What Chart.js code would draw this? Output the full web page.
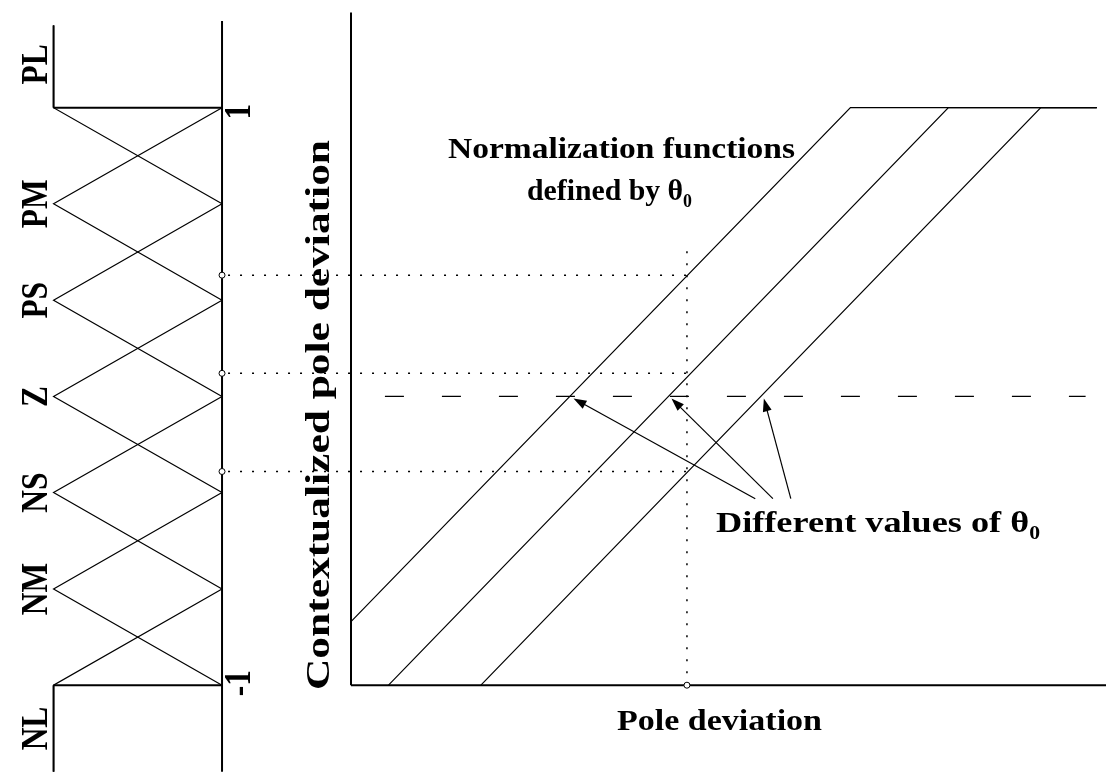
<!DOCTYPE html>
<html>
<head>
<meta charset="utf-8">
<script src="https://cdn.jsdelivr.net/npm/chart.js@4.4.1/dist/chart.umd.min.js"></script>
<style>
  html, body { margin: 0; padding: 0; background: #fff; }
  #wrap { position: relative; width: 1111px; height: 782px; }
</style>
</head>
<body>
<div id="wrap"><canvas id="fuzzy" width="1111" height="782"></canvas></div>
<script>
// linguistic terms of the contextualized pole deviation (universe -1 .. 1)
const TERMS = ['NL', 'NM', 'NS', 'Z', 'PS', 'PM', 'PL'];
const TERM_CENTERS = [-1, -0.667, -0.333, 0, 0.333, 0.667, 1];
const UNIVERSE_TICKS = ['-1', '1'];

// normalization functions, one per value of theta0 (break points)
const THETA0 = [-0.35, 0, 0.33];
const NORM_X = [[-1.134, 0.65, 1.53], [-1, 1, 1.53], [-0.67, 1.33, 1.53]];
const NORM_Y = [[-0.78, 1, 1], [-1, 1, 1], [-1, 1, 1]];

// one measured pole deviation and what each function turns it into
const POLE_DEVIATION = 0.066;
const CONTEXTUALIZED = [0.42, 0.08, -0.26];

const W = 1111, H = 782;
const INK = '#000';
const FONT_FAMILY = '"Liberation Serif", "Times New Roman", serif';

// pick min/max so that two values land on two given pixels of a full-size chart area
function fitScale(v0, p0, v1, p1, size, vertical) {
    const b = (p1 - p0) / (v1 - v0);
    const a = p0 - b * v0;
    const atStart = -a / b, atEnd = (size - a) / b;
    const grows = vertical ? b < 0 : b > 0;
    return { min: Math.min(atStart, atEnd), max: Math.max(atStart, atEnd), reverse: !grows };
}

const Y_RANGE = fitScale(1, 104, -1, 689, H, true);
const XM_RANGE = fitScale(1, 49, 0, 219, W, false);   // membership degree, grows to the left
const X_RANGE = fitScale(-1, 387, 1, 952, W, false);  // pole deviation

function seg(xs, ys) {
    return xs.map((x, i) => ({ x: x, y: ys[i] }));
}

function lineSet(data, axis, extra) {
    return Object.assign({
        data: data,
        xAxisID: axis,
        yAxisID: 'y',
        showLine: true,
        borderColor: INK,
        borderWidth: 1.2,
        pointRadius: 0,
        tension: 0
    }, extra || {});
}

function buildDatasets() {
    const sets = [];

    // little open circles: projections on the universe axis and the measured deviation
    sets.push({
        data: CONTEXTUALIZED.map(v => ({ x: 0, y: v })),
        xAxisID: 'xm', yAxisID: 'y', showLine: false,
        pointRadius: 3, pointBackgroundColor: '#fff', pointBorderColor: INK, pointBorderWidth: 1
    });
    sets.push({
        data: [{ x: POLE_DEVIATION, y: -1 }],
        xAxisID: 'x', yAxisID: 'y', showLine: false,
        pointRadius: 3, pointBackgroundColor: '#fff', pointBorderColor: INK, pointBorderWidth: 1
    });

    // triangular membership functions, feet on the neighbouring centres
    TERM_CENTERS.forEach((c, i) => {
        const pts = [];
        if (i > 0) pts.push({ x: 0, y: TERM_CENTERS[i - 1] });
        else pts.push({ x: 1, y: -1.3 });
        pts.push({ x: 1, y: c });
        if (i < TERM_CENTERS.length - 1) pts.push({ x: 0, y: TERM_CENTERS[i + 1] });
        else pts.push({ x: 1, y: 1.285 });
        sets.push(lineSet(pts, 'xm'));
    });

    // universe bounds and the zero-membership axis
    sets.push(lineSet(seg([0, 1], [1, 1]), 'xm', { borderWidth: 2 }));
    sets.push(lineSet(seg([0, 1], [-1, -1]), 'xm', { borderWidth: 2 }));
    sets.push(lineSet(seg([0, 0], [-1.3, 1.3]), 'xm', { borderWidth: 2 }));
    sets.push(lineSet(seg([1, 1], [1, 1.285]), 'xm', { borderWidth: 2 }));
    sets.push(lineSet(seg([1, 1], [-1, -1.3]), 'xm', { borderWidth: 2 }));

    // normalization functions
    NORM_X.forEach((xs, i) => sets.push(lineSet(seg(xs, NORM_Y[i]), 'x')));

    // right plot axes
    sets.push(lineSet(seg([-1.134, -1.134], [-1, 1.33]), 'x', { borderWidth: 2 }));
    sets.push(lineSet(seg([-1.134, 1.57], [-1, -1]), 'x', { borderWidth: 2 }));

    // zero level, dashed
    sets.push(lineSet(seg([-1.12, 1.49], [0, 0]), 'x', { borderDash: [19, 38], borderDashOffset: 27 }));

    // measured deviation, dotted
    sets.push(lineSet(seg([POLE_DEVIATION, POLE_DEVIATION], [-1, 0.515]), 'x',
        { borderDash: [2, 10], borderWidth: 1.5 }));

    return sets;
}

function font(size) {
    return 'bold ' + size + 'px ' + FONT_FAMILY;
}

// text drawn with an optional subscript, squeezed or stretched along its direction
function drawText(ctx, parts, x, y, o) {
    const size = o.size;
    const subSize = Math.round(size * 0.6);
    ctx.save();
    ctx.translate(x, y);
    ctx.rotate(o.angle || 0);
    ctx.font = font(size);
    const mainW = ctx.measureText(parts[0]).width;
    ctx.font = font(subSize);
    const subW = parts[1] ? ctx.measureText(parts[1]).width : 0;
    const sx = o.width ? o.width / (mainW + subW) : (o.sx || 1);
    ctx.scale(sx, o.sy || 1);
    const start = o.align === 'left' ? 0 : -(mainW + subW) / 2;
    const base = size * 0.33;
    ctx.fillStyle = INK;
    ctx.textBaseline = 'alphabetic';
    ctx.textAlign = 'left';
    ctx.font = font(size);
    ctx.fillText(parts[0], start, base);
    if (parts[1]) {
        ctx.font = font(subSize);
        ctx.fillText(parts[1], start + mainW, base + size * 0.22);
    }
    ctx.restore();
}

function getProjectionPlugin() {
    return {
        id: 'projections',
        beforeDatasetsDraw(chart) {
            const { ctx, scales: { x, y, xm } } = chart;
            const from = xm.getPixelForValue(0);
            const to = x.getPixelForValue(POLE_DEVIATION);
            ctx.save();
            ctx.strokeStyle = INK;
            ctx.lineWidth = 1.5;
            ctx.setLineDash([2, 10]);
            CONTEXTUALIZED.forEach(v => {
                const py = y.getPixelForValue(v);
                ctx.beginPath();
                ctx.moveTo(from + 6, py);
                ctx.lineTo(to, py);
                ctx.stroke();
            });
            ctx.restore();
        }
    };
}

// arrows from the caption to each crossing of the zero level
const ARROW_TAILS_X = [0.31, 0.373, 0.437];
const ARROW_TAILS_Y = -0.354;

function getAnnotationPlugin() {
    return {
        id: 'annotations',
        afterDatasetsDraw(chart) {
            const { ctx, scales: { x, y, xm } } = chart;
            ctx.save();

            ctx.strokeStyle = INK;
            ctx.fillStyle = INK;
            ctx.lineWidth = 1.2;
            THETA0.forEach((t, i) => {
                const tx = x.getPixelForValue(t) + 3, ty = y.getPixelForValue(0) + 2;
                const sx = x.getPixelForValue(ARROW_TAILS_X[i]), sy = y.getPixelForValue(ARROW_TAILS_Y);
                const ang = Math.atan2(ty - sy, tx - sx);
                ctx.beginPath();
                ctx.moveTo(sx, sy);
                ctx.lineTo(tx - Math.cos(ang) * 8, ty - Math.sin(ang) * 8);
                ctx.stroke();
                ctx.beginPath();
                ctx.moveTo(tx, ty);
                ctx.lineTo(tx - 13 * Math.cos(ang) + 4.5 * Math.sin(ang), ty - 13 * Math.sin(ang) - 4.5 * Math.cos(ang));
                ctx.lineTo(tx - 13 * Math.cos(ang) - 4.5 * Math.sin(ang), ty - 13 * Math.sin(ang) + 4.5 * Math.cos(ang));
                ctx.closePath();
                ctx.fill();
            });

            // term names beside the membership peaks, the ends pushed outwards
            const labelX = xm.getPixelForValue(1) - 19;
            TERMS.forEach((name, i) => {
                const c = TERM_CENTERS[i];
                const at = c === 1 ? 1.15 : c === -1 ? -1.15 : c;
                drawText(ctx, [name], labelX, y.getPixelForValue(at), { size: 37, sx: 0.85, angle: -Math.PI / 2 });
            });
            const tickX = xm.getPixelForValue(0) + 16;
            drawText(ctx, [UNIVERSE_TICKS[0]], tickX, y.getPixelForValue(-1) - 2, { size: 37, sx: 0.85, angle: -Math.PI / 2 });
            drawText(ctx, [UNIVERSE_TICKS[1]], tickX, y.getPixelForValue(1) + 4, { size: 37, sx: 0.85, angle: -Math.PI / 2 });

            drawText(ctx, ['Contextualized pole deviation'], 318, 415, { size: 34, width: 550, angle: -Math.PI / 2 });
            drawText(ctx, ['Pole deviation'], 617, 720, { size: 30, width: 205, align: 'left' });
            drawText(ctx, ['Normalization functions'], 448, 148, { size: 30, width: 347, align: 'left' });
            drawText(ctx, ['defined by θ', '0'], 527, 190, { size: 30, width: 165, align: 'left' });
            drawText(ctx, ['Different values of θ', '0'], 716, 522, { size: 30, width: 324, align: 'left' });

            ctx.restore();
        }
    };
}

new Chart(document.getElementById('fuzzy'), {
    type: 'scatter',
    data: { datasets: buildDatasets() },
    options: {
        responsive: false,
        animation: false,
        layout: { padding: 0 },
        plugins: { legend: { display: false }, tooltip: { enabled: false } },
        scales: {
            x: Object.assign({ type: 'linear', display: false }, X_RANGE),
            xm: Object.assign({ type: 'linear', axis: 'x', position: 'bottom', display: false }, XM_RANGE),
            y: Object.assign({ type: 'linear', display: false }, Y_RANGE)
        }
    },
    plugins: [getProjectionPlugin(), getAnnotationPlugin()]
});
</script>
</body>
</html>
